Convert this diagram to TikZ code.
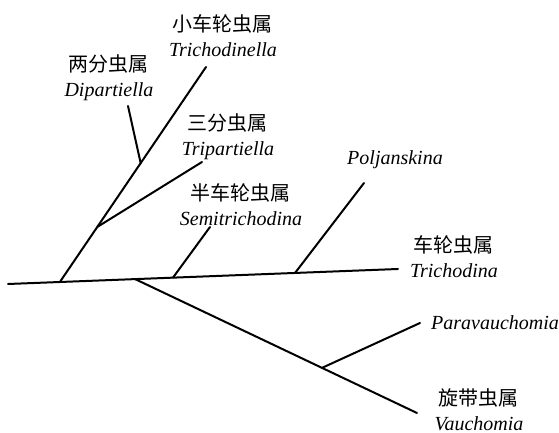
\documentclass[tikz,border=0pt]{standalone}
\usepackage{fontspec}
\setmainfont{Liberation Serif}
\newfontfamily\cjk{Noto Sans CJK SC}
\usetikzlibrary{calc}
\tikzset{>=latex}
\tikzset{
  branch/.style={line width=1pt, line cap=round},
  taxon/.style={inner sep=0pt, align=center, font=\fontsize{10}{12.5}\selectfont},
}

\begin{document}
\begin{tikzpicture}[x=0.5pt, y=-0.5pt]
                \useasboundingbox (0,0) rectangle (559,433);
                \coordinate (root) at (8,284);
                \coordinate (tipTrichodina) at (398,269);
                \coordinate (nodeTri) at ($(root)!0.133!(tipTrichodina)$);
                \coordinate (nodeVau) at ($(root)!0.326!(tipTrichodina)$);
                \coordinate (nodeSemi) at ($(root)!0.423!(tipTrichodina)$);
                \coordinate (nodePol) at ($(root)!0.736!(tipTrichodina)$);
                \coordinate (tipTrichodinella) at (206,67);
                \coordinate (nodeTrip) at ($(nodeTri)!0.256!(tipTrichodinella)$);
                \coordinate (nodeDip) at ($(nodeTri)!0.553!(tipTrichodinella)$);
                \coordinate (tipDipartiella) at (128,106);
                \coordinate (tipTripartiella) at (202,162);
                \coordinate (tipSemi) at (210,227);
                \coordinate (tipPoljanskina) at (364,183);
                \coordinate (tipVauchomia) at (417,413);
                \coordinate (nodePara) at ($(nodeVau)!0.663!(tipVauchomia)$);
                \coordinate (tipParavauchomia) at (420,323);
                \draw[branch] (root) -- (tipTrichodina);
                \draw[branch] (nodeTri) -- (tipTrichodinella);
                \draw[branch] (nodeDip) -- (tipDipartiella);
                \draw[branch] (nodeTrip) -- (tipTripartiella);
                \draw[branch] (nodeSemi) -- (tipSemi);
                \draw[branch] (nodePol) -- (tipPoljanskina);
                \draw[branch] (nodeVau) -- (tipVauchomia);
                \draw[branch] (nodePara) -- (tipParavauchomia);
                \node[taxon, anchor=north] (trichodinella) at (223,14) {{\cjk 小车轮虫属}\\\itshape Trichodinella};
                \node[taxon, anchor=north] (dipartiella) at (109,54) {{\cjk 两分虫属}\\\itshape Dipartiella};
                \node[taxon, anchor=north] (tripartiella) at (228,113) {{\cjk 三分虫属}\\\itshape Tripartiella};
                \node[taxon, anchor=north] (semitrichodina) at (241,183) {{\cjk 半车轮虫属}\\\itshape Semitrichodina};
                \node[taxon] (poljanskina) at (395,160) {\itshape Poljanskina};
                \node[taxon, anchor=north] (trichodina) at (454,235) {{\cjk 车轮虫属}\\\itshape Trichodina};
                \node[taxon] (paravauchomia) at (495,323) {\itshape Paravauchomia};
                \node[taxon, anchor=north] (vauchomia) at (479,388) {{\cjk 旋带虫属}\\\itshape Vauchomia};
            \end{tikzpicture}
\end{document}
